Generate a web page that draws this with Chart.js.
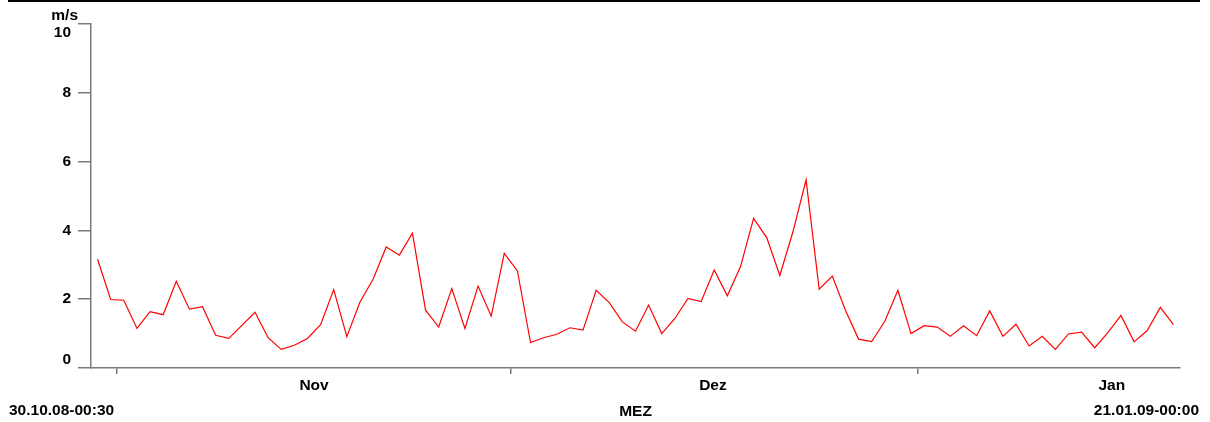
<!DOCTYPE html>
<html>
<head>
<meta charset="utf-8">
<script src="https://cdn.jsdelivr.net/npm/chart.js@4/dist/chart.umd.min.js"></script>
<style>
  html, body { margin: 0; padding: 0; background: #ffffff; }
  #wrap { width: 1210px; height: 422px; position: relative; }
</style>
</head>
<body>
<div id="wrap"><canvas id="c" width="1210" height="422"></canvas></div>
<script>
// ---- data (daily mean wind speed, m/s) ----
const startLabel = '30.10.08-00:30';
const endLabel = '21.01.09-00:00';
const zoneLabel = 'MEZ';
const unitLabel = 'm/s';
const totalDays = 83; // 30.10.08 00:00 .. 21.01.09 00:00
const speeds = [
  3.16, 1.99, 1.97, 1.15, 1.64, 1.55, 2.52, 1.71, 1.78, 0.95,
  0.86, 1.24, 1.62, 0.88, 0.54, 0.66, 0.86, 1.26, 2.28, 0.91,
  1.92, 2.58, 3.52, 3.28, 3.92, 1.68, 1.19, 2.31, 1.15, 2.38,
  1.51, 3.33, 2.82, 0.74, 0.88, 0.98, 1.17, 1.10, 2.26, 1.90,
  1.34, 1.07, 1.83, 1.00, 1.44, 2.02, 1.93, 2.85, 2.10, 2.94,
  4.35, 3.79, 2.69, 3.96, 5.47, 2.29, 2.67, 1.68, 0.84, 0.77,
  1.36, 2.26, 1.00, 1.23, 1.19, 0.92, 1.23, 0.94, 1.66, 0.92,
  1.27, 0.64, 0.92, 0.54, 0.99, 1.04, 0.59, 1.03, 1.53, 0.76,
  1.09, 1.76, 1.26
];
const monthStarts = [2, 32, 63];          // day offsets of 1 Nov, 1 Dec, 1 Jan
const monthLabels = ['Nov', 'Dez', 'Jan'];
const monthLabelPos = [17, 47.4, 77.8];
const yTicks = [0, 2, 4, 6, 8, 10];
const yTickLabels = ['0', '2', '4', '6', '8', '10'];
const yLabelPos = [0.25, 2, 4, 6, 8, 9.75];

const points = speeds.map((v, i) => ({ x: i + 0.5, y: v }));

const FONT = "'Liberation Sans', Arial, Helvetica, sans-serif";
const FSIZE = 15.5;
const AXIS = '#7a7a7a';

const xTickList = [];
monthStarts.forEach(v => xTickList.push({ value: v, label: '' }));
monthLabelPos.forEach((v, i) => xTickList.push({ value: v, label: monthLabels[i] }));
xTickList.sort((a, b) => a.value - b.value);

const extraText = {
  id: 'extraText',
  beforeDraw(chart) {
    const ctx = chart.ctx;
    ctx.save();
    ctx.fillStyle = '#000000';
    ctx.fillRect(8, 0, 1192, 2);
    ctx.font = 'bold ' + FSIZE + 'px ' + FONT;
    ctx.textBaseline = 'middle';
    ctx.textAlign = 'right';
    ctx.fillText(unitLabel, chart.chartArea.left - 13, 16);
    ctx.textAlign = 'left';
    ctx.fillText(startLabel, 9, 411);
    ctx.textAlign = 'right';
    ctx.fillText(endLabel, 1199, 411);
    ctx.restore();
  }
};

new Chart(document.getElementById('c'), {
  type: 'line',
  data: {
    datasets: [{
      data: points,
      borderColor: '#ff0000',
      borderWidth: 1.2,
      pointRadius: 0,
      tension: 0,
      fill: false
    }]
  },
  options: {
    responsive: false,
    animation: false,
    events: [],
    layout: { padding: { left: 38, right: 30, top: 24, bottom: 0 } },
    plugins: { legend: { display: false }, tooltip: { enabled: false } },
    scales: {
      x: {
        type: 'linear',
        min: 0,
        max: totalDays,
        afterBuildTicks(scale) { scale.ticks = xTickList.map(t => ({ value: t.value })); },
        afterFit(scale) { scale.height = 54; },
        ticks: {
          autoSkip: false,
          maxRotation: 0,
          padding: 2,
          color: '#000000',
          font: { family: FONT, size: FSIZE, weight: 'bold' },
          callback(value, index) { return xTickList[index] ? xTickList[index].label : ''; }
        },
        grid: {
          drawOnChartArea: false,
          tickLength: 6,
          lineWidth: 1.5,
          tickColor(ctx) { return (ctx.tick && xTickList[ctx.index] && xTickList[ctx.index].label) ? 'rgba(0,0,0,0)' : AXIS; }
        },
        border: { color: AXIS, width: 1.5 },
        title: {
          display: true,
          text: zoneLabel,
          color: '#000000',
          font: { family: FONT, size: FSIZE, weight: 'bold' },
          padding: { top: 0, bottom: 1 }
        }
      },
      y: {
        position: 'left',
        weight: 0,
        min: 0,
        max: 10,
        afterBuildTicks(scale) { scale.ticks = yTicks.map(v => ({ value: v })); },
        afterFit(scale) { scale.width = 13; },
        ticks: { display: false },
        grid: { drawOnChartArea: false, tickLength: 13, lineWidth: 1.5, color: AXIS },
        border: { color: AXIS, width: 1.5 }
      },
      yLabels: {
        position: 'left',
        weight: 1,
        min: 0,
        max: 10,
        afterBuildTicks(scale) { scale.ticks = yLabelPos.map(v => ({ value: v })); },
        afterFit(scale) { scale.width = 40; },
        ticks: {
          autoSkip: false,
          padding: 7,
          color: '#000000',
          font: { family: FONT, size: FSIZE, weight: 'bold' },
          callback(value, index) { return yTickLabels[index]; }
        },
        grid: { display: false, drawTicks: false },
        border: { display: false }
      }
    }
  },
  plugins: [extraText]
});
</script>
</body>
</html>
